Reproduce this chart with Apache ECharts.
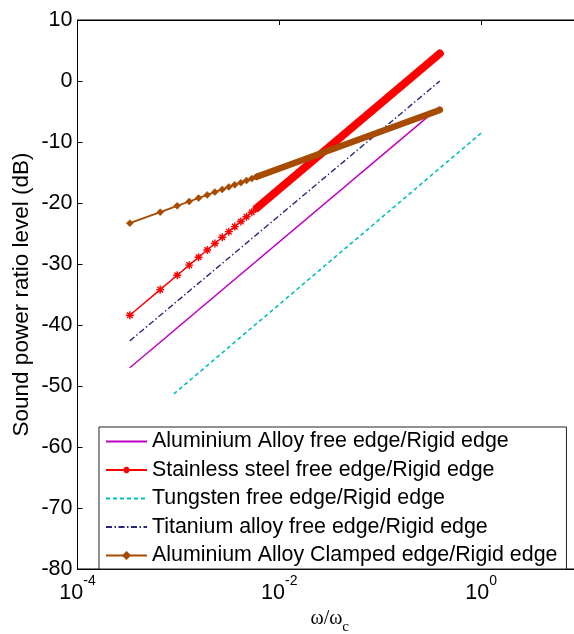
<!DOCTYPE html>
<html>
<head>
<meta charset="utf-8">
<script src="https://cdn.jsdelivr.net/npm/echarts@6/dist/echarts.min.js"></script>
<style>
html,body{margin:0;padding:0;background:#fff;}
#chart{width:574px;height:634px;}
</style>
</head>
<body>
<div id="chart"></div>
<script>
// ---- data (omega/omega_c, dB) ----
const seriesNames = [
  'Aluminium Alloy free edge/Rigid edge',
  'Stainless steel free edge/Rigid edge',
  'Tungsten free edge/Rigid edge',
  'Titanium alloy free edge/Rigid edge',
  'Aluminium Alloy Clamped edge/Rigid edge'
];
const xTickExponents = [-4, -2, 0];
const yTicks = [10, 0, -10, -20, -30, -40, -50, -60, -70, -80];

const alFreeOmega = [3.3e-4, 0.39];
const alFreeDb = [-47.0, -4.2];

const ssMarkerOmega = [3.3e-4, 6.6e-4, 9.73e-4, 1.28e-3, 1.585e-3, 1.93e-3, 2.30e-3, 2.72e-3, 3.16e-3, 3.62e-3, 4.16e-3, 4.73e-3, 5.34e-3, 5.98e-3];
const ssMarkerDb = [-38.4, -34.2, -31.85, -30.19, -28.89, -27.70, -26.64, -25.62, -24.70, -23.87, -23.03, -22.25, -21.51, -20.83];
const ssBandOmega = [5.98e-3, 0.39];
const ssBandDb = [-20.83, 4.5];

const wOmega = [9.0e-4, 1.04];
const wDb = [-51.3, -8.3];

const tiOmega = [3.3e-4, 0.39];
const tiDb = [-42.6, 0.0];

const alClMarkerOmega = [3.3e-4, 6.6e-4, 9.73e-4, 1.28e-3, 1.585e-3, 1.93e-3, 2.30e-3, 2.72e-3, 3.16e-3, 3.62e-3, 4.16e-3, 4.73e-3, 5.34e-3, 5.98e-3];
const alClMarkerDb = [-23.3, -21.5, -20.47, -19.75, -19.19, -18.67, -18.21, -17.77, -17.37, -17.02, -16.66, -16.32, -16.0, -15.7];
const alClBandOmega = [5.98e-3, 0.39];
const alClBandDb = [-15.7, -4.75];

// ---- build ----
function pairs(xs, ys) { return xs.map((x, i) => [x, ys[i]]); }
const SANS = '"Liberation Sans", Arial, Helvetica, sans-serif';
const SERIF = '"Liberation Serif", "Times New Roman", serif';
const asterisk = 'path://M0,5L10,5M5,0L5,10M1.5,1.5L8.5,8.5M8.5,1.5L1.5,8.5';

const colors = ['#C000C0', '#FF0000', '#00BFBF', '#26267F', '#A64B00'];

const chart = echarts.init(document.getElementById('chart'), null, {renderer: 'canvas'});

const xLabel = {
  show: true,
  margin: 5,
  formatter: function (v) {
    const e = Math.round(Math.log10(v));
    if (xTickExponents.indexOf(e) < 0) return '';
    return '{b|10}{s|' + e + '}';
  },
  rich: {
    b: {fontFamily: SANS, fontSize: 21.5, color: '#000', verticalAlign: 'bottom', lineHeight: 30},
    s: {fontFamily: SANS, fontSize: 14, color: '#000', verticalAlign: 'top', lineHeight: 30}
  }
};

const hiddenSymbol = {opacity: 0, color: 'rgba(0,0,0,0)', borderColor: 'rgba(0,0,0,0)', borderWidth: 0};
const legendData = seriesNames.map(function (n, i) {
  return (i === 1 || i === 4) ? {name: n} : {name: n, itemStyle: hiddenSymbol};
});

chart.setOption({
  animation: false,
  backgroundColor: '#fff',
  grid: {
    left: 77.5, right: -8, top: 20, bottom: 65,
    containLabel: false, outerBoundsMode: 'none',
    show: true, borderColor: '#000', borderWidth: 1, backgroundColor: 'transparent'
  },
  legend: {
    data: legendData,
    orient: 'vertical',
    left: 99,
    top: 427,
    padding: [3, 9, 2, 6],
    itemWidth: 41,
    itemHeight: 8,
    itemGap: 5.5,
    backgroundColor: '#fff',
    borderColor: '#222',
    borderWidth: 1,
    borderRadius: 0,
    textStyle: {fontFamily: SANS, fontSize: 21.4, color: '#000', lineHeight: 23}
  },
  xAxis: [{
    type: 'log',
    logBase: 100,
    min: 1e-4,
    max: 10,
    position: 'bottom',
    name: '{a|ω/ω}{c|c}',
    nameLocation: 'middle',
    nameGap: 40,
    nameMoveOverlap: false,
    nameTextStyle: {
      rich: {
        a: {fontFamily: SERIF, fontSize: 20, color: '#000', verticalAlign: 'top', lineHeight: 26},
        c: {fontFamily: SERIF, fontSize: 15, color: '#000', verticalAlign: 'bottom', lineHeight: 26}
      }
    },
    axisLine: {show: true, onZero: false, lineStyle: {color: '#000', width: 1}},
    axisTick: {show: true, inside: true, length: 5, lineStyle: {color: '#000'}},
    minorTick: {show: false},
    splitLine: {show: false},
    axisLabel: xLabel
  }, {
    type: 'log',
    logBase: 100,
    min: 1e-4,
    max: 10,
    position: 'top',
    axisLine: {show: true, onZero: false, lineStyle: {color: '#000', width: 1}},
    axisTick: {show: true, inside: true, length: 5, lineStyle: {color: '#000'}},
    splitLine: {show: false},
    axisLabel: {show: false}
  }],
  yAxis: {
    type: 'value',
    min: -80,
    max: 10,
    interval: 10,
    name: 'Sound power ratio level (dB)',
    nameLocation: 'middle',
    nameGap: 44,
    nameMoveOverlap: false,
    nameTextStyle: {fontFamily: SANS, fontSize: 22.5, color: '#000'},
    axisLine: {show: true, onZero: false, lineStyle: {color: '#000', width: 1}},
    axisTick: {show: true, inside: true, length: 5, lineStyle: {color: '#000'}},
    splitLine: {show: false},
    axisLabel: {
      margin: 5,
      fontFamily: SANS, fontSize: 21.5, color: '#000',
      formatter: function (v) { return yTicks.indexOf(v) >= 0 ? String(v) : ''; }
    }
  },
  series: [
    {
      name: seriesNames[0], type: 'line', data: pairs(alFreeOmega, alFreeDb),
      symbol: 'none', color: colors[0], lineStyle: {width: 1.5, color: colors[0]}
    },
    {
      name: seriesNames[1], type: 'line', data: pairs(ssMarkerOmega, ssMarkerDb),
      symbol: asterisk, symbolSize: 8, showSymbol: true, color: colors[1],
      lineStyle: {width: 1.5, color: colors[1]},
      itemStyle: {color: colors[1], borderColor: colors[1], borderWidth: 1.4}
    },
    {
      name: 'ss-dense', type: 'line', data: pairs(ssBandOmega, ssBandDb),
      symbol: 'none', color: colors[1], lineStyle: {width: 8, color: colors[1], cap: 'round'}
    },
    {
      name: seriesNames[2], type: 'line', data: pairs(wOmega, wDb),
      symbol: 'none', color: colors[2], lineStyle: {width: 1.6, color: colors[2], type: [4, 3]}
    },
    {
      name: seriesNames[3], type: 'line', data: pairs(tiOmega, tiDb),
      symbol: 'none', color: colors[3], lineStyle: {width: 1.4, color: colors[3], type: [6, 2.5, 1.5, 2.5]}
    },
    {
      name: seriesNames[4], type: 'line', data: pairs(alClMarkerOmega, alClMarkerDb),
      symbol: 'diamond', symbolSize: 7, showSymbol: true, color: colors[4],
      lineStyle: {width: 1.8, color: colors[4]},
      itemStyle: {color: colors[4], borderColor: colors[4], borderWidth: 0.5}
    },
    {
      name: 'alcl-dense', type: 'line', data: pairs(alClBandOmega, alClBandDb),
      symbol: 'none', color: colors[4], lineStyle: {width: 6.5, color: colors[4], cap: 'round'}
    }
  ]
});
</script>
</body>
</html>
